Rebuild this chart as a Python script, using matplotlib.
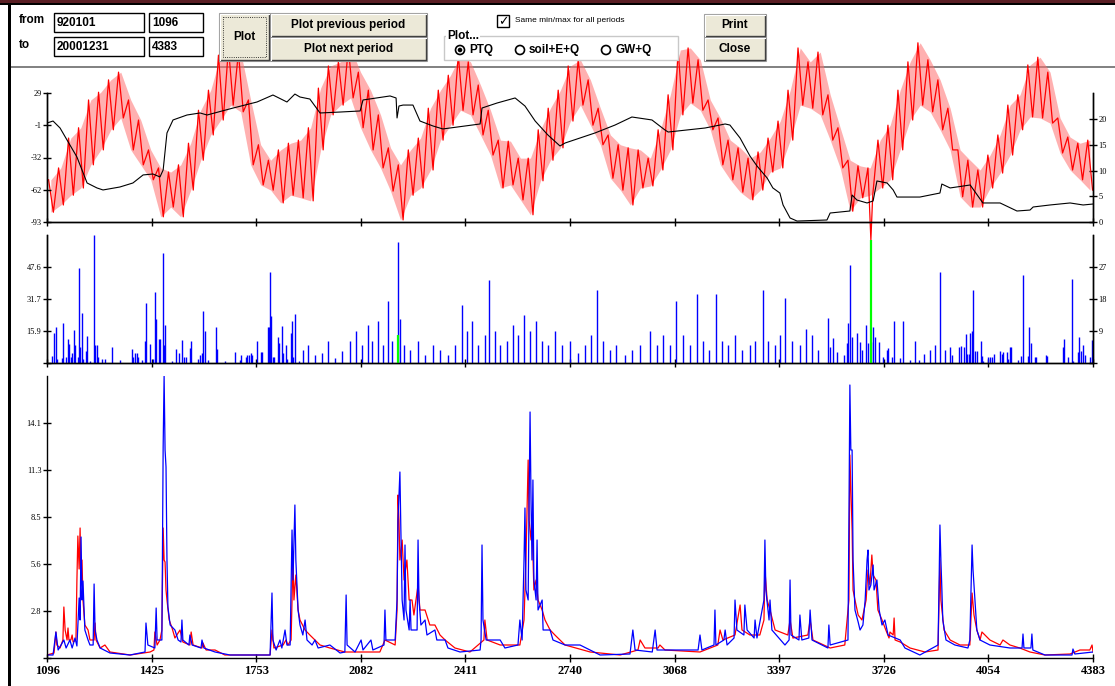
import numpy as np
import matplotlib
matplotlib.use('Agg')
import matplotlib.pyplot as plt
from matplotlib.patches import Rectangle, Circle

plt.rcParams['font.family'] = ['Liberation Serif', 'DejaVu Serif']

# ---------------- data ----------------
x_ticks = [1096, 1425, 1753, 2082, 2411, 2740, 3068, 3397, 3726, 4054, 4383]

# temperature, upper / lower value in each ~31 day window
temp_hi = [8.2, 10.5, 16.3, 18.3, 23.7, 25.2, 27.6, 29.1, 23.7, 19.8,
           14.0, 10.5, 9.7, 11.1, 15.3, 21.7, 25.6, 32.4, 33.8, 33.0,
           23.7, 15.0, 12.0, 14.0, 15.3, 15.9, 18.3, 26.0, 30.3, 31.1,
           33.8, 29.1, 25.6, 20.8, 14.4, 11.1, 14.0, 16.3, 22.1, 25.6,
           28.5, 32.4, 31.1, 26.6, 21.7, 15.9, 15.7, 12.4, 12.4, 17.9,
           22.1, 25.6, 30.3, 31.5, 27.6, 22.1, 16.9, 15.0, 14.4, 14.0,
           12.4, 17.9, 24.7, 33.4, 33.8, 31.5, 23.7, 20.2, 15.9, 14.4,
           12.4, 13.6, 16.3, 19.6, 25.6, 33.8, 31.1, 33.0, 24.7, 18.3,
           12.0, 10.9, 10.5, 15.9, 18.8, 25.6, 31.1, 34.8, 31.5, 27.6,
           22.1, 14.0, 12.0, 10.1, 13.0, 16.9, 22.7, 24.7, 30.5, 32.0,
           29.1, 20.2, 16.5, 15.3, 15.9]
temp_lo = [1.9, 3.3, 5.2, 6.6, 11.1, 14.0, 17.9, 20.2, 14.0, 11.1,
           8.2, 1.0, 2.9, 1.0, 6.2, 12.0, 16.9, 19.8, 22.7, 21.4,
           11.1, 7.2, 6.2, 3.7, 5.2, 4.7, 4.1, 14.0, 20.8, 22.7,
           24.1, 18.3, 14.0, 10.5, 6.0, 0.4, 5.2, 6.6, 10.1, 15.9,
           18.8, 21.7, 20.8, 16.9, 13.0, 6.6, 7.2, 4.3, 1.4, 8.0,
           12.0, 14.4, 19.6, 22.7, 18.8, 15.0, 8.5, 6.2, 3.3, 6.6,
           7.0, 10.1, 14.0, 20.8, 23.1, 21.7, 17.9, 11.1, 8.2, 5.8,
           4.3, 6.2, 9.7, 10.5, 15.9, 22.7, 22.1, 20.8, 15.9, 10.5,
           2.1, 4.7, 5.2, 6.6, 8.2, 14.0, 19.8, 22.7, 21.4, 17.9,
           14.0, 4.9, 2.9, 2.9, 6.6, 9.5, 13.0, 17.9, 20.4, 20.2,
           19.2, 13.4, 10.1, 8.2, 6.2]
temp_window = 31.4
temp_outlier = (3685, -3.5)

# black storage line (left axis of the top panel)
store = [(1096, 0.6), (1115, 2.5), (1137, -4.1), (1159, -15.5), (1190, -31.5),
         (1222, -56.1), (1253, -60.8), (1272, -62.7), (1325, -59.9), (1366, -56.1),
         (1398, -48.5), (1429, -47.6), (1451, -50.4), (1461, -43.8), (1473, -8.8),
         (1492, 3.5), (1536, 8.2), (1577, 10.1), (1599, 8.2), (1681, 14.8),
         (1756, 20.5), (1806, 27.1), (1850, 20.5), (1875, 28.0), (1891, 25.2),
         (1922, 23.3), (1954, 10.1), (2017, 11.0), (2080, 12.0), (2089, 22.4),
         (2174, 26.2), (2193, 24.3), (2196, 5.4), (2202, 16.7), (2215, 17.6),
         (2246, 17.6), (2268, 2.5), (2309, -2.2), (2340, -5.0), (2457, -0.3),
         (2463, 14.8), (2510, 19.5), (2567, 24.3), (2598, 16.7), (2630, 2.5),
         (2670, -10.7), (2708, -21.1), (2724, -18.3), (2818, -8.8), (2881, -1.3),
         (2934, 6.3), (2997, 3.5), (3038, -6.0), (3048, -7.9), (3164, -4.1),
         (3227, -0.3), (3242, -1.3), (3274, -13.6), (3305, -30.6), (3327, -40.0),
         (3359, -51.4), (3377, -60.8), (3399, -65.6), (3409, -76.9), (3431, -89.2),
         (3453, -92.1), (3547, -91.1), (3557, -84.5), (3619, -82.6), (3626, -67.5),
         (3641, -72.2), (3673, -75.0), (3692, -73.1), (3704, -54.2), (3736, -56.1),
         (3755, -62.7), (3767, -69.4), (3839, -69.4), (3902, -65.6), (3908, -57.1),
         (3934, -60.8), (3997, -58.0), (4037, -75.0), (4091, -75.0), (4144, -82.6),
         (4185, -81.7), (4195, -78.8), (4248, -76.9), (4311, -75.0), (4352, -76.9),
         (4383, -76.0)]

# precipitation bars (day, mm)
precip = [(1112, 3.5), (1118, 15), (1124, 18), (1127, 2), (1143, 2.5), (1146, 20),
          (1156, 3), (1162, 12), (1165, 9.5), (1171, 3), (1175, 5), (1181, 16.5),
          (1184, 9), (1193, 3), (1197, 47), (1200, 8), (1206, 25), (1209, 2),
          (1219, 6), (1222, 13.5), (1231, 1), (1244, 63.5), (1247, 9), (1253, 9),
          (1256, 3), (1269, 2), (1278, 2), (1300, 8), (1325, 1.5), (1363, 7),
          (1366, 3), (1373, 5), (1379, 5), (1382, 3), (1395, 1.5), (1404, 11),
          (1407, 30), (1420, 9.5), (1429, 2), (1435, 35), (1439, 22), (1448, 12),
          (1451, 12), (1461, 54.5), (1464, 9), (1467, 19), (1489, 1), (1501, 7),
          (1511, 5), (1520, 11.5), (1527, 3), (1533, 3), (1545, 7.5), (1549, 11),
          (1571, 2), (1577, 4), (1583, 5), (1586, 26), (1593, 16), (1602, 1.5),
          (1627, 18), (1630, 7), (1655, 1), (1687, 5.5), (1703, 1.5), (1706, 4),
          (1721, 3), (1725, 4), (1731, 4), (1737, 5), (1740, 4), (1756, 11),
          (1769, 5.5), (1772, 5.5), (1791, 18), (1794, 18), (1797, 45), (1800, 23.5),
          (1806, 3), (1809, 3), (1822, 13), (1825, 10), (1835, 18.5), (1838, 5),
          (1847, 9), (1850, 2), (1863, 15), (1866, 21), (1869, 3), (1875, 24.5),
          (1888, 1), (1900, 6.5), (1916, 9), (1938, 4), (1960, 5), (1979, 11),
          (2001, 2.5), (2023, 6), (2048, 11), (2067, 16), (2086, 9), (2105, 19),
          (2117, 11), (2136, 21), (2152, 9), (2168, 31), (2180, 11), (2199, 60),
          (2205, 22), (2218, 9), (2237, 6.5), (2262, 11), (2284, 4), (2309, 9),
          (2331, 6.5), (2356, 4), (2378, 9), (2400, 29), (2416, 16), (2432, 21),
          (2450, 9), (2472, 14), (2485, 41), (2504, 16), (2520, 9), (2542, 11),
          (2560, 19), (2576, 14), (2595, 24), (2614, 16), (2633, 21), (2652, 11),
          (2670, 9), (2692, 16), (2714, 9), (2739, 11), (2765, 5), (2787, 9),
          (2806, 14), (2824, 36), (2843, 11), (2865, 6.5), (2884, 9), (2912, 4),
          (2934, 6.5), (2959, 9), (2991, 16), (3013, 9), (3032, 14), (3054, 9),
          (3073, 31), (3095, 14), (3117, 9), (3139, 34), (3157, 11), (3176, 6.5),
          (3198, 34), (3217, 11), (3236, 9), (3258, 14), (3280, 6.5), (3305, 9),
          (3321, 11), (3346, 36), (3362, 11), (3384, 9), (3399, 14), (3415, 32),
          (3437, 11), (3462, 9), (3481, 17), (3500, 14), (3519, 6.5), (3550, 22.5),
          (3557, 8), (3566, 12.5), (3579, 5.5), (3600, 4), (3610, 10), (3613, 20),
          (3619, 48.6), (3626, 13), (3641, 15), (3651, 10.5), (3657, 6.5), (3670, 19),
          (3676, 10), (3685, 10.5), (3692, 18), (3698, 13), (3711, 10.5), (3723, 3),
          (3736, 6.5), (3739, 7.5), (3751, 3), (3758, 21), (3777, 2.5), (3786, 21),
          (3808, 1.5), (3824, 11), (3836, 1.5), (3852, 4.5), (3871, 6.5), (3887, 9),
          (3902, 45), (3918, 6.5), (3934, 8), (3940, 4), (3962, 8), (3968, 8.5),
          (3977, 8), (3984, 14.5), (3987, 4.5), (3993, 4.5), (3996, 15), (4003, 16),
          (4006, 36), (4012, 6), (4018, 6), (4031, 11), (4034, 3.5), (4037, 1),
          (4053, 3), (4059, 3), (4066, 3), (4072, 4.5), (4091, 6), (4097, 4.5),
          (4100, 5.5), (4113, 5.5), (4116, 2), (4122, 8), (4125, 8), (4147, 1.5),
          (4157, 3.5), (4163, 43.5), (4179, 3.5), (4182, 18), (4188, 10), (4201, 3),
          (4204, 3), (4235, 4), (4239, 3.5), (4289, 8), (4292, 12), (4304, 3),
          (4317, 41.5), (4320, 1), (4336, 5.5), (4339, 13), (4345, 6), (4352, 9),
          (4358, 4), (4373, 3), (4380, 11.5)]

# green marks (right axis of the precipitation panel)
flags = [(2199, 7.9), (3685, 34.6)]

# observed runoff (blue)
q_obs = [(1096, 0.18), (1115, 0.18), (1124, 1.56), (1131, 0.48), (1149, 1.08),
         (1156, 0.60), (1168, 1.08), (1175, 0.60), (1184, 1.20), (1190, 0.72),
         (1197, 3.60), (1200, 2.28), (1203, 7.26), (1206, 3.48), (1209, 4.62),
         (1215, 1.68), (1225, 1.08), (1231, 0.78), (1241, 0.78), (1244, 4.44),
         (1247, 1.68), (1253, 1.08), (1263, 0.60), (1294, 0.30), (1357, 0.18),
         (1404, 0.36), (1407, 2.10), (1413, 0.78), (1435, 0.60), (1439, 3.00),
         (1442, 1.08), (1457, 1.08), (1461, 12.66), (1464, 16.92), (1467, 12.48),
         (1470, 11.46), (1473, 5.88), (1476, 3.06), (1483, 1.98), (1498, 1.68),
         (1508, 1.08), (1517, 0.96), (1520, 2.28), (1523, 1.08), (1542, 0.78),
         (1545, 1.38), (1552, 0.78), (1580, 0.60), (1583, 1.08), (1589, 0.60),
         (1624, 0.36), (1671, 0.18), (1797, 0.18), (1803, 3.90), (1806, 1.08),
         (1816, 0.48), (1828, 1.08), (1834, 0.60), (1844, 1.68), (1850, 0.78),
         (1860, 0.78), (1866, 7.68), (1869, 4.68), (1875, 9.18), (1878, 5.88),
         (1885, 2.88), (1891, 1.98), (1900, 1.38), (1907, 2.28), (1913, 1.08),
         (1929, 0.78), (1938, 1.08), (1948, 0.60), (1985, 0.78), (2017, 0.30),
         (2032, 0.36), (2036, 3.78), (2039, 0.78), (2064, 0.36), (2083, 1.08),
         (2089, 0.48), (2114, 1.08), (2120, 0.48), (2155, 0.78), (2158, 2.88),
         (2161, 1.08), (2190, 1.08), (2196, 3.48), (2199, 8.28), (2205, 11.16),
         (2208, 7.68), (2212, 3.48), (2218, 2.28), (2221, 6.78), (2224, 2.88),
         (2234, 1.68), (2237, 3.48), (2240, 1.68), (2259, 1.68), (2262, 7.08),
         (2265, 3.48), (2271, 1.98), (2284, 2.28), (2290, 1.38), (2315, 1.68),
         (2321, 1.08), (2347, 1.08), (2356, 0.60), (2394, 0.36), (2457, 0.48),
         (2460, 1.08), (2463, 6.78), (2466, 2.28), (2476, 1.08), (2520, 1.08),
         (2535, 0.60), (2576, 0.78), (2582, 2.28), (2589, 1.08), (2595, 5.88),
         (2598, 9.00), (2601, 4.08), (2608, 3.48), (2611, 9.48), (2614, 14.76),
         (2617, 9.48), (2620, 5.88), (2623, 10.68), (2626, 4.68), (2633, 3.48),
         (2636, 7.08), (2639, 2.88), (2652, 3.48), (2655, 1.68), (2677, 1.68),
         (2686, 1.08), (2724, 0.78), (2771, 0.78), (2834, 0.18), (2928, 0.24),
         (2937, 1.68), (2944, 0.48), (2998, 0.36), (3007, 1.68), (3013, 0.48),
         (3142, 0.48), (3148, 1.38), (3154, 0.48), (3192, 0.78), (3195, 2.88),
         (3198, 0.78), (3223, 1.08), (3227, 1.68), (3233, 0.78), (3255, 1.20),
         (3258, 3.48), (3264, 1.68), (3286, 1.38), (3289, 3.18), (3296, 1.68),
         (3318, 1.20), (3321, 2.28), (3327, 1.20), (3349, 3.48), (3352, 7.08),
         (3355, 4.08), (3365, 2.28), (3368, 3.48), (3374, 1.68), (3415, 0.78),
         (3428, 1.08), (3431, 4.68), (3434, 1.38), (3459, 1.08), (3462, 2.58),
         (3468, 1.08), (3490, 1.20), (3494, 2.88), (3500, 1.08), (3550, 0.60),
         (3553, 1.98), (3557, 0.78), (3613, 1.08), (3616, 8.28), (3619, 16.38),
         (3622, 12.48), (3626, 12.48), (3629, 5.88), (3635, 2.88), (3645, 2.16),
         (3651, 1.68), (3660, 1.98), (3667, 3.48), (3673, 5.88), (3676, 6.48),
         (3679, 4.08), (3685, 4.38), (3692, 5.58), (3695, 4.08), (3704, 4.68),
         (3711, 2.88), (3720, 1.98), (3729, 2.28), (3739, 1.38), (3777, 1.08),
         (3792, 0.60), (3839, 0.18), (3896, 0.78), (3899, 4.08), (3902, 7.98),
         (3905, 5.88), (3908, 4.20), (3911, 2.28), (3921, 1.08), (3949, 0.78),
         (3990, 0.60), (3996, 1.08), (3999, 3.48), (4003, 6.78), (4006, 5.28),
         (4012, 3.48), (4018, 1.68), (4028, 1.08), (4059, 0.78), (4122, 0.60),
         (4160, 0.60), (4163, 1.44), (4166, 0.60), (4188, 0.60), (4191, 1.44),
         (4194, 0.48), (4232, 0.18), (4317, 0.18), (4320, 0.54), (4326, 0.24),
         (4383, 0.36)]

# simulated runoff (red)
q_sim = [(1096, 0.18), (1118, 0.30), (1124, 1.56), (1127, 0.78), (1137, 0.60),
         (1146, 1.08), (1149, 3.06), (1153, 1.68), (1159, 1.08), (1162, 1.80),
         (1165, 1.08), (1171, 1.08), (1175, 1.38), (1178, 0.96), (1187, 1.08),
         (1190, 4.68), (1193, 7.32), (1197, 5.34), (1200, 7.80), (1203, 4.68),
         (1206, 5.88), (1209, 3.48), (1215, 1.98), (1225, 1.68), (1231, 1.08),
         (1244, 1.08), (1247, 2.10), (1250, 1.08), (1263, 0.60), (1278, 0.78),
         (1294, 0.36), (1357, 0.18), (1420, 0.36), (1432, 0.48), (1435, 1.56),
         (1442, 0.78), (1451, 1.08), (1457, 1.68), (1461, 7.80), (1464, 5.88),
         (1467, 5.76), (1470, 4.08), (1473, 3.48), (1480, 2.28), (1489, 1.80),
         (1498, 1.20), (1514, 1.68), (1523, 0.96), (1545, 0.78), (1549, 1.56),
         (1555, 0.78), (1583, 0.60), (1586, 0.90), (1596, 0.48), (1624, 0.48),
         (1655, 0.18), (1797, 0.18), (1803, 1.68), (1809, 0.60), (1838, 0.78),
         (1847, 1.08), (1853, 0.78), (1863, 1.08), (1869, 5.88), (1872, 3.48),
         (1878, 4.98), (1885, 2.88), (1891, 2.28), (1907, 1.68), (1922, 1.38),
         (1938, 1.08), (1954, 0.78), (1985, 0.60), (2032, 0.36), (2142, 0.36),
         (2158, 1.08), (2190, 0.78), (2196, 2.88), (2199, 9.78), (2202, 8.28),
         (2205, 5.88), (2212, 7.08), (2218, 4.68), (2227, 5.88), (2234, 3.48),
         (2243, 3.48), (2249, 2.58), (2262, 4.38), (2268, 2.88), (2284, 2.88),
         (2299, 1.98), (2315, 1.98), (2331, 1.38), (2347, 1.08), (2378, 0.60),
         (2425, 0.36), (2469, 1.08), (2472, 2.28), (2479, 1.08), (2520, 0.78),
         (2582, 0.78), (2595, 2.28), (2601, 5.88), (2608, 11.88), (2611, 8.28),
         (2617, 7.08), (2620, 8.28), (2626, 4.08), (2633, 4.68), (2639, 3.48),
         (2652, 2.88), (2661, 2.28), (2677, 1.68), (2692, 1.38), (2724, 0.78),
         (2803, 0.36), (2897, 0.18), (2953, 0.48), (2960, 1.08), (2975, 0.60),
         (3016, 0.60), (3022, 0.78), (3038, 0.48), (3148, 0.36), (3204, 0.78),
         (3211, 1.68), (3220, 1.08), (3258, 1.38), (3274, 3.18), (3280, 1.68),
         (3305, 1.38), (3336, 1.38), (3349, 2.28), (3352, 5.28), (3359, 3.48),
         (3368, 2.88), (3384, 1.68), (3424, 1.38), (3431, 2.28), (3440, 1.20),
         (3487, 1.38), (3494, 2.28), (3503, 1.08), (3557, 0.60), (3603, 0.78),
         (3616, 3.48), (3619, 12.18), (3626, 7.68), (3629, 4.08), (3635, 3.48),
         (3645, 2.58), (3657, 2.28), (3670, 3.48), (3676, 5.28), (3682, 4.38),
         (3688, 6.18), (3692, 4.98), (3701, 4.68), (3707, 2.88), (3720, 2.28),
         (3732, 1.68), (3742, 1.20), (3745, 1.56), (3755, 1.38), (3758, 2.40),
         (3761, 1.08), (3777, 0.96), (3808, 0.60), (3855, 0.36), (3896, 0.48),
         (3902, 5.88), (3905, 3.48), (3915, 1.68), (3934, 1.08), (3965, 0.78),
         (3996, 0.78), (4003, 3.90), (4009, 2.58), (4018, 1.68), (4028, 1.08),
         (4034, 1.56), (4059, 1.08), (4091, 0.78), (4100, 1.08), (4122, 0.78),
         (4153, 0.60), (4185, 0.36), (4232, 0.18), (4311, 0.24), (4342, 0.48),
         (4373, 0.48), (4380, 0.78), (4383, 0.36)]

# axis ticks and labels
t_left_ticks = [-93, -62.5, -32, -1.5, 29]
t_left_labels = ['-93', '-62', '-32', '-1', '29']
t_right_ticks = [0, 5, 10, 15, 20]
p_left_ticks = [0, 15.875, 31.75, 47.625]
p_left_labels = ['', '15.9', '31.7', '47.6']
p_right_ticks = [0, 9, 18, 27]
p_right_labels = ['', '9', '18', '27']
q_ticks = [0, 2.82, 5.64, 8.46, 11.28, 14.1]
q_labels = ['', '2.8', '5.6', '8.5', '11.3', '14.1']

RED, BLUE, GREEN = '#ff0000', '#0000ff', '#00ff00'

# ---------------- figure ----------------
W_PX, H_PX = 1115, 686
fig = plt.figure(figsize=(W_PX / 100, H_PX / 100), dpi=100)


def panel(top, bottom):
    ax = fig.add_axes([47 / W_PX, 1 - bottom / H_PX, 1046 / W_PX, (bottom - top) / H_PX])
    ax.set_facecolor('none')
    ax.set_xlim(x_ticks[0], x_ticks[-1])
    ax.set_xticks(x_ticks)
    ax.spines['top'].set_visible(False)
    for s in ax.spines.values():
        s.set_linewidth(1.0)
    ax.tick_params(direction='inout', length=6, width=1.0, labelsize=6, pad=1)
    return ax


# top panel: temperature + storage
ax1 = panel(93, 222)
ax1r = ax1.twinx()
ax1r.set_xlim(x_ticks[0], x_ticks[-1])
ax1.set_zorder(ax1r.get_zorder() + 1)
ax1.patch.set_visible(False)
ax1r.spines['top'].set_visible(False)
for s in ax1r.spines.values():
    s.set_linewidth(1.0)
ax1r.tick_params(direction='inout', length=6, width=1.0, labelsize=6, pad=1)

start = x_ticks[0] + temp_window * np.arange(len(temp_hi))
# spread of the daily values inside each window
ax1r.fill_between(start + 12, temp_lo, temp_hi, color='#ff7070', lw=0,
                  alpha=0.55, clip_on=False)
t_day = np.concatenate([start + 5, start + 20, [temp_outlier[0]]])
t_val = np.concatenate([temp_hi, temp_lo, [temp_outlier[1]]])
order = np.argsort(t_day)
ax1r.plot(t_day[order], t_val[order], color=RED, lw=0.9, clip_on=False)
ax1r.set_ylim(0, 25.05)
ax1r.set_yticks(t_right_ticks)

sd, sv = zip(*store)
ax1.plot(sd, sv, color='black', lw=0.8)
ax1.set_ylim(-93, 29)
ax1.set_yticks(t_left_ticks, t_left_labels)
ax1.set_xticklabels([])

# middle panel: precipitation
ax2 = panel(235, 363)
ax2r = ax2.twinx()
ax2r.set_xlim(x_ticks[0], x_ticks[-1])
ax2r.spines['top'].set_visible(False)
for s in ax2r.spines.values():
    s.set_linewidth(1.0)
ax2r.tick_params(direction='inout', length=6, width=1.0, labelsize=6, pad=1)
pd_, pv = zip(*precip)
ax2.vlines(pd_, 0, pv, color=BLUE, lw=1.0)
ax2.set_ylim(0, 63.5)
ax2.set_yticks(p_left_ticks, p_left_labels)
ax2.set_xticklabels([])
fd, fv = zip(*flags)
ax2r.vlines(fd, 0, fv, color=GREEN, lw=1.6)
ax2r.set_ylim(0, 36)
ax2r.set_yticks(p_right_ticks, p_right_labels)

# bottom panel: runoff
ax3 = panel(376, 658)
ax3.spines['right'].set_visible(False)
sd, sv = zip(*q_sim)
ax3.plot(sd, sv, color=RED, lw=0.9)
od, ov = zip(*q_obs)
ax3.plot(od, ov, color=BLUE, lw=0.9)
ax3.set_ylim(0, 16.92)
ax3.set_yticks(q_ticks, q_labels)
ax3.set_xticklabels([str(v) for v in x_ticks], fontsize=9, fontweight='bold')
ax3.tick_params(axis='x', pad=2)

# ---------------- window chrome ----------------
bg = fig.add_axes([0, 0, 1, 1], zorder=-5)
ui = fig.add_axes([0, 0, 1, 1], zorder=10)
for a in (bg, ui):
    a.set_xlim(0, W_PX)
    a.set_ylim(H_PX, 0)
    a.axis('off')
    a.patch.set_visible(False)

bg.plot([10, W_PX], [67, 67], color='#808080', lw=1.4)
ui.add_patch(Rectangle((0, 0), W_PX, 3, color='#5a1e24', lw=0))
ui.add_patch(Rectangle((0, 3), W_PX, 2, color='black', lw=0))
ui.add_patch(Rectangle((8, 3), 3, H_PX, color='black', lw=0))

SANS = ['Liberation Sans', 'DejaVu Sans']


def button(x, y, w, h, label):
    ui.add_patch(Rectangle((x, y), w, h, facecolor='#ece9d8', edgecolor='#a0a0a0', lw=0.8))
    ui.plot([x + 1, x + w - 1, x + w - 1], [y + h - 1, y + h - 1, y + 1], color='#404040', lw=1.0)
    ui.plot([x + 1, x + 1, x + w - 1], [y + h - 1, y + 1, y + 1], color='white', lw=0.8)
    ui.text(x + w / 2, y + h / 2, label, ha='center', va='center',
            fontsize=8.5, fontweight='bold', family=SANS)


def field(x, y, w, h, label):
    ui.add_patch(Rectangle((x, y), w, h, facecolor='white', edgecolor='black', lw=1.0))
    ui.text(x + 3, y + h / 2 + 0.5, label, ha='left', va='center',
            fontsize=8.5, fontweight='bold', family=SANS)


ui.text(19, 20, 'from', ha='left', va='center', fontsize=8.5, fontweight='bold', family=SANS)
ui.text(19, 45, 'to', ha='left', va='center', fontsize=8.5, fontweight='bold', family=SANS)
field(54, 13, 90, 19, '920101')
field(149, 13, 54, 19, '1096')
field(54, 37, 90, 19, '20001231')
field(149, 37, 54, 19, '4383')

button(219, 13, 51, 48, 'Plot')
ui.add_patch(Rectangle((223, 17), 43, 40, fill=False, edgecolor='black', lw=0.6, ls=':'))
button(270, 13, 157, 24, 'Plot previous period')
button(270, 37, 157, 24, 'Plot next period')
button(704, 14, 62, 23, 'Print')
button(704, 37, 62, 24, 'Close')

# check box
ui.add_patch(Rectangle((497, 15), 12, 12, facecolor='white', edgecolor='black', lw=1.0))
ui.text(503, 21.5, '\u2713', ha='center', va='center', fontsize=9, fontweight='bold',
        family=['DejaVu Sans'])
ui.text(515, 21, 'Same min/max for all periods', ha='left', va='center', fontsize=6,
        family=SANS)

# radio group
ui.add_patch(Rectangle((444, 36), 234, 24, facecolor='white', edgecolor='#c8c8c8', lw=1.0))
ui.text(447, 36, 'Plot...', ha='left', va='center', fontsize=8.5, fontweight='bold',
        family=SANS, bbox=dict(facecolor='white', edgecolor='none', pad=0.5))
for cx, lab, on in [(460, 'PTQ', True), (520, 'soil+E+Q', False), (606, 'GW+Q', False)]:
    ui.add_patch(Circle((cx, 50), 4.5, facecolor='white', edgecolor='black', lw=1.2))
    if on:
        ui.add_patch(Circle((cx, 50), 1.6, color='black'))
    ui.text(cx + 9, 50.5, lab, ha='left', va='center', fontsize=8.5, fontweight='bold',
            family=SANS)

fig.savefig('out.png', dpi=100)
